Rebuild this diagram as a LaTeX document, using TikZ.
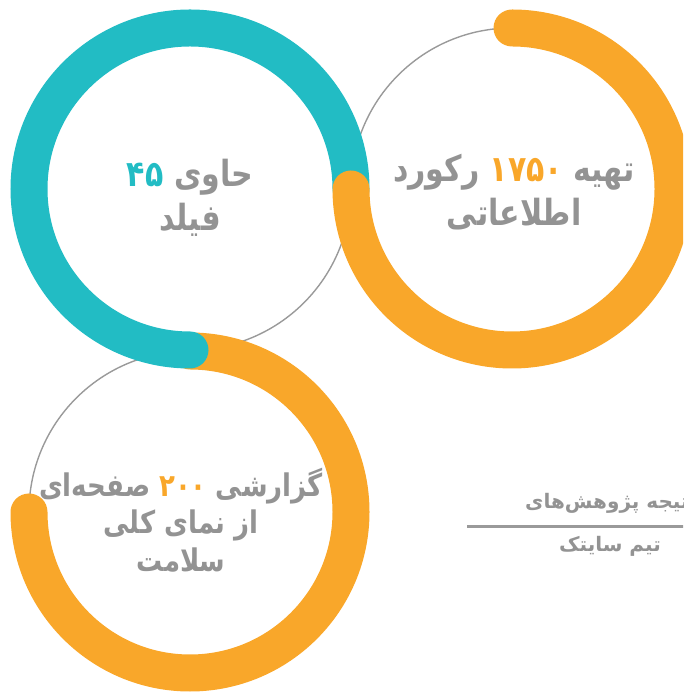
\documentclass[tikz,border=0pt]{standalone}
\usepackage{fontspec}
\newfontfamily\fa[Script=Arabic]{DejaVu Sans}
\TeXXeTstate=1
\definecolor{tealc}{HTML}{22BCC4}
\definecolor{orngc}{HTML}{F9A72A}
\definecolor{txtgray}{HTML}{939393}
\definecolor{linegray}{HTML}{9A9A9A}
\tikzset{
  thinring/.style={draw=linegray, line width=1.4pt},
  thickarc/.style={line width=37pt, line cap=round},
  bigtxt/.style={text=txtgray, align=center, transform shape, font=\fa\bfseries\fontsize{30}{37}\selectfont, inner sep=0pt},
  smalltxt/.style={text=txtgray, font=\fa\bfseries\fontsize{20}{24}\selectfont, inner sep=0pt}
}
\begin{document}
\begin{tikzpicture}[x=1pt,y=1pt]
\useasboundingbox (0,0) rectangle (683,692);
\clip (0,0) rectangle (683,692);
\coordinate (A) at (190,503);
\coordinate (B) at (512,503);
\coordinate (C) at (190,180);
% thin rings
\draw[thinring] (A) circle (161);
\draw[thinring] (B) circle (161);
\draw[thinring] (C) circle (161);
% thick arcs
\draw[thickarc, orngc] ([shift={(90:161)}]C) arc[start angle=90, end angle=-180, radius=161];
\draw[thickarc, tealc] ([shift={(0:161)}]A) arc[start angle=0, end angle=270, radius=161];
\draw[thickarc, orngc] ([shift={(90:161)}]B) arc[start angle=90, end angle=-180, radius=161];
% texts (each line written in visual left-to-right order)
\begin{scope}[shift={(190,494)}, yscale=1.2]
\node[bigtxt] (ta) at (0,0) {{\color{tealc}۴۵} حاوی\\فیلد};
\end{scope}
\begin{scope}[shift={(514,500)}, yscale=1.2]
\node[bigtxt] (tb) at (0,0) {رکورد {\color{orngc}۱۷۵۰} تهیه\\اطلاعاتی};
\end{scope}
\begin{scope}[shift={(181,172)}, yscale=1.2]
\node[bigtxt, font=\fa\bfseries\fontsize{26}{31}\selectfont] (tc) at (0,0) {صفحه‌ای {\color{orngc}۲۰۰} گزارشی\\\beginR از نمای کلی\endR\\سلامت};
\end{scope}
% side note
\node[smalltxt, anchor=east] (s1) at (697,189) {\beginR نتیجه پژوهش‌های\endR};
\coordinate (l1) at (467,165);
\coordinate (l2) at (690,165);
\draw[linegray, line width=3pt] (l1) -- (l2);
\node[smalltxt] (s2) at (610,146) {\beginR تیم سایتک\endR};
\end{tikzpicture}
\end{document}
